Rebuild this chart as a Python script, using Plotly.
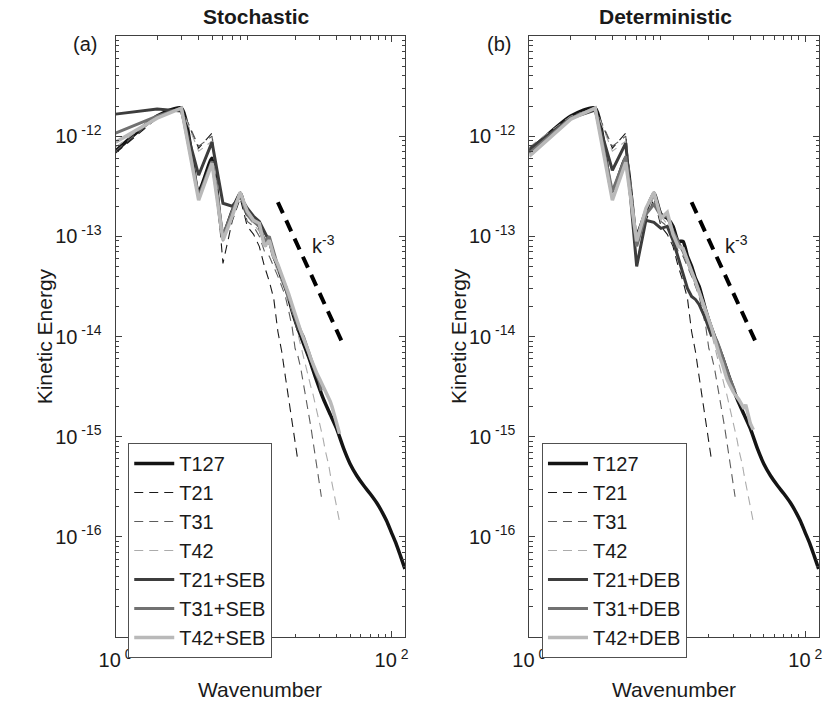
import plotly.graph_objects as go

# ---------------- data (log10 of kinetic energy) ----------------
k127 = [1, 2, 3, 4, 5, 6, 7, 8, 9, 10, 11, 12, 13, 14, 15, 16, 17, 18, 19, 20,
        22, 25, 28, 32, 36, 40, 45, 50, 56, 63, 70, 78, 86, 92, 100, 108, 116, 125]
t127 = [-12.15, -11.80, -11.72, -12.55, -12.22, -12.98, -12.75, -12.57, -12.78, -12.82,
        -12.90, -13.05, -13.05, -13.20, -13.30, -13.42, -13.50, -13.62, -13.74, -13.84,
        -14.00, -14.20, -14.40, -14.62, -14.78, -14.92, -15.12, -15.27, -15.39, -15.49,
        -15.57, -15.66, -15.76, -15.84, -15.96, -16.07, -16.19, -16.32]

k21 = list(range(1, 22))
k31 = list(range(1, 32))
k42 = list(range(1, 43))

t21 = [-12.17, -11.82, -11.72, -12.12, -11.97, -13.27, -12.85, -12.62, -12.90, -12.98,
       -13.10, -13.30, -13.45, -13.62, -13.95, -14.15, -14.40, -14.62, -14.85, -15.05, -15.25]
t31 = [-12.15, -11.80, -11.72, -12.10, -12.00, -13.05, -12.80, -12.60, -12.85, -12.90,
       -13.00, -13.15, -13.20, -13.30, -13.40, -13.50, -13.60, -13.75, -13.90, -14.12,
       -14.20, -14.32, -14.47, -14.60, -14.75, -14.90, -15.05, -15.20, -15.35, -15.48, -15.60]
t42 = [-12.11, -11.80, -11.72, -12.15, -12.05, -13.00, -12.80, -12.60, -12.80, -12.88,
       -12.95, -13.10, -13.10, -13.25, -13.35, -13.45, -13.55, -13.65, -13.75, -13.85,
       -13.98, -14.10, -14.20, -14.30, -14.40, -14.50, -14.58, -14.67, -14.76, -14.85,
       -14.94, -15.03, -15.13, -15.20, -15.28, -15.38, -15.46, -15.55, -15.63, -15.70,
       -15.77, -15.85]

# Stochastic energy backscatter
t21_seb = [-11.78, -11.73, -11.75, -12.39, -12.06, -12.67, -12.70, -12.60, -12.72, -12.80,
           -12.85, -12.95, -13.05, -13.20, -13.30, -13.40, -13.52, -13.60, -13.70, -13.82, -13.94]
t31_seb = [-11.97, -11.80, -11.72, -12.60, -12.25, -13.00, -12.75, -12.57, -12.78, -12.85,
           -12.90, -13.05, -13.00, -13.15, -13.30, -13.40, -13.50, -13.60, -13.70, -13.80,
           -13.88, -13.95, -14.00, -14.08, -14.15, -14.22, -14.28, -14.35, -14.40, -14.45, -14.54]
t42_seb = [-12.06, -11.82, -11.72, -12.64, -12.27, -13.04, -12.80, -12.56, -12.75, -12.84,
           -12.87, -13.10, -13.04, -13.20, -13.28, -13.38, -13.48, -13.58, -13.68, -13.78,
           -13.88, -13.95, -14.02, -14.08, -14.15, -14.22, -14.28, -14.33, -14.38, -14.42,
           -14.46, -14.50, -14.54, -14.57, -14.60, -14.65, -14.70, -14.76, -14.82, -14.88,
           -14.92, -14.97]

# Deterministic energy backscatter
t21_deb = [-12.13, -11.82, -11.74, -12.34, -12.07, -13.30, -12.84, -12.86, -12.92, -12.90,
           -13.04, -13.22, -13.38, -13.52, -13.60, -13.63, -13.68, -13.75, -13.83, -13.92, -14.00]
t31_deb = [-12.17, -11.82, -11.72, -12.55, -12.20, -13.10, -12.78, -12.68, -12.80, -12.80,
           -12.95, -13.05, -13.15, -13.25, -13.35, -13.45, -13.55, -13.65, -13.75, -13.85,
           -13.92, -14.00, -14.05, -14.12, -14.20, -14.28, -14.33, -14.40, -14.45, -14.50, -14.55]
t42_deb = [-12.20, -11.83, -11.72, -12.64, -12.26, -13.05, -12.72, -12.56, -12.82, -12.76,
           -12.98, -13.10, -13.12, -13.25, -13.35, -13.45, -13.55, -13.65, -13.75, -13.82,
           -13.92, -14.02, -14.12, -14.20, -14.27, -14.35, -14.42, -14.47, -14.52, -14.55,
           -14.58, -14.60, -14.63, -14.66, -14.70, -14.72, -14.68, -14.75, -14.82, -14.87,
           -14.90, -14.93]

# k^-3 reference line end points
kref = [15, 45]
eref = [2.19e-13, 8.1e-15]

x_ticks = [1, 100]
x_ticktext = ["10<sup> 0</sup>", "10<sup> 2</sup>"]
y_ticks = [1e-16, 1e-15, 1e-14, 1e-13, 1e-12]
y_ticktext = ["10<sup> -16</sup>", "10<sup> -15</sup>", "10<sup> -14</sup>",
              "10<sup> -13</sup>", "10<sup> -12</sup>"]

titles = ["Stochastic", "Deterministic"]
panel_labels = ["(a)", "(b)"]


def energy(vals):
    return [10 ** v for v in vals]


W, H = 826, 702


def px(x):
    return x / W


def py(y):
    return 1 - y / H


FONT = "Liberation Sans, Arial, Helvetica, sans-serif"

fig = go.Figure()

panels = [
    ("x", "y", "legend", [("T21+SEB", t21_seb), ("T31+SEB", t31_seb), ("T42+SEB", t42_seb)]),
    ("x2", "y2", "legend2", [("T21+DEB", t21_deb), ("T31+DEB", t31_deb), ("T42+DEB", t42_deb)]),
]

eb_styles = [dict(color="#3d3d3d", width=3), dict(color="#717171", width=3),
             dict(color="#b9b9b9", width=3.5)]
dash_styles = [dict(color="#1a1a1a", width=1.1, dash="9px,6px"),
               dict(color="#5c5c5c", width=1.1, dash="9px,6px"),
               dict(color="#ababab", width=1.1, dash="9px,6px")]

for xa, ya, lg, eb in panels:
    fig.add_trace(go.Scatter(x=k127, y=energy(t127), mode="lines", name="T127",
                             line=dict(color="#141414", width=3.5, shape="spline", smoothing=0.6),
                             xaxis=xa, yaxis=ya, legend=lg))
    for (nm, kk, vv), st in zip([("T21", k21, t21), ("T31", k31, t31), ("T42", k42, t42)], dash_styles):
        fig.add_trace(go.Scatter(x=kk, y=energy(vv), mode="lines", name=nm, line=st,
                                 xaxis=xa, yaxis=ya, legend=lg))
    for (nm, vv), kk, st in zip(eb, [k21, k31, k42], eb_styles):
        fig.add_trace(go.Scatter(x=kk, y=energy(vv), mode="lines", name=nm, line=st,
                                 xaxis=xa, yaxis=ya, legend=lg))
    fig.add_trace(go.Scatter(x=kref, y=eref, mode="lines", showlegend=False,
                             line=dict(color="#000000", width=4, dash="12px,8px"),
                             xaxis=xa, yaxis=ya, legend=lg))

x_minor = [m * 10 ** d for d in range(0, 3) for m in range(2, 10)]
y_minor = [m * 10.0 ** d for d in range(-17, -11) for m in range(2, 10)]

axis_common = dict(showline=True, linecolor="#404040", linewidth=1, mirror="ticks",
                   ticks="inside", ticklen=6, tickcolor="#404040", showgrid=False,
                   zeroline=False, tickfont=dict(family=FONT, size=20, color="#1a1a1a"))

doms = [[px(101), px(398)], [px(525), px(822)]]
ydom = [py(637), py(36)]

for i, suffix in enumerate(["", "2"]):
    fig.layout["xaxis" + suffix] = dict(
        type="log", range=[0, 2.1], domain=doms[i], anchor="y" + suffix,
        tickvals=x_ticks, ticktext=x_ticktext, ticklabelstandoff=5,
        minor=dict(tickvals=x_minor, ticks="inside", ticklen=3.5, tickcolor="#404040"),
        **axis_common)
    fig.layout["yaxis" + suffix] = dict(
        type="log", range=[-17, -11], domain=ydom, anchor="x" + suffix,
        tickvals=y_ticks, ticktext=y_ticktext, ticklabelstandoff=9,
        minor=dict(tickvals=y_minor, ticks="inside", ticklen=3.5, tickcolor="#404040"),
        **axis_common)

ann = []
title_x = [245, 665]
ylab_x = [28, 452]
plab_x = [70, 494]
ref_lab_x = [300, 724]
for i in range(2):
    ann.append(dict(text="<b>%s</b>" % titles[i], x=px(title_x[i]), y=py(17),
                    xref="paper", yref="paper", showarrow=False, xanchor="center", yanchor="middle",
                    font=dict(family=FONT, size=21, color="#1a1a1a")))
    ann.append(dict(text=panel_labels[i], x=px(plab_x[i]), y=py(44),
                    xref="paper", yref="paper", showarrow=False, xanchor="center", yanchor="middle",
                    font=dict(family=FONT, size=20, color="#1a1a1a")))
    ann.append(dict(text="Kinetic Energy", x=px(ylab_x[i]), y=py(336), textangle=-90,
                    xref="paper", yref="paper", showarrow=False, xanchor="center", yanchor="middle",
                    font=dict(family=FONT, size=21, color="#1a1a1a")))
    ann.append(dict(text="Wavenumber", x=(doms[i][0] + doms[i][1]) / 2, y=py(689),
                    xref="paper", yref="paper", showarrow=False, xanchor="center", yanchor="middle",
                    font=dict(family=FONT, size=21, color="#1a1a1a")))
    ann.append(dict(text="k<sup>-3</sup>", x=px(ref_lab_x[i]), y=py(244),
                    xref="paper", yref="paper", showarrow=False, xanchor="left", yanchor="middle",
                    font=dict(family=FONT, size=20, color="#1a1a1a")))

legend_common = dict(bgcolor="white", bordercolor="#505050", borderwidth=1,
                     font=dict(family=FONT, size=20, color="#1a1a1a"),
                     xanchor="left", yanchor="top", traceorder="normal",
                     itemwidth=40, tracegroupgap=0)

fig.update_layout(
    width=W, height=H, autosize=False,
    margin=dict(l=0, r=0, t=0, b=0),
    paper_bgcolor="white", plot_bgcolor="white",
    font=dict(family=FONT, size=20, color="#1a1a1a"),
    annotations=ann,
    legend=dict(x=px(114), y=py(443), **legend_common),
    legend2=dict(x=px(538), y=py(443), **legend_common),
)

# remove the default page margin so the 826x702 figure fills the window exactly
fig.write_html("out.html",
               config={"displayModeBar": False},
               post_script="document.body.style.margin='0px';"
                           "document.body.style.overflow='hidden';")
